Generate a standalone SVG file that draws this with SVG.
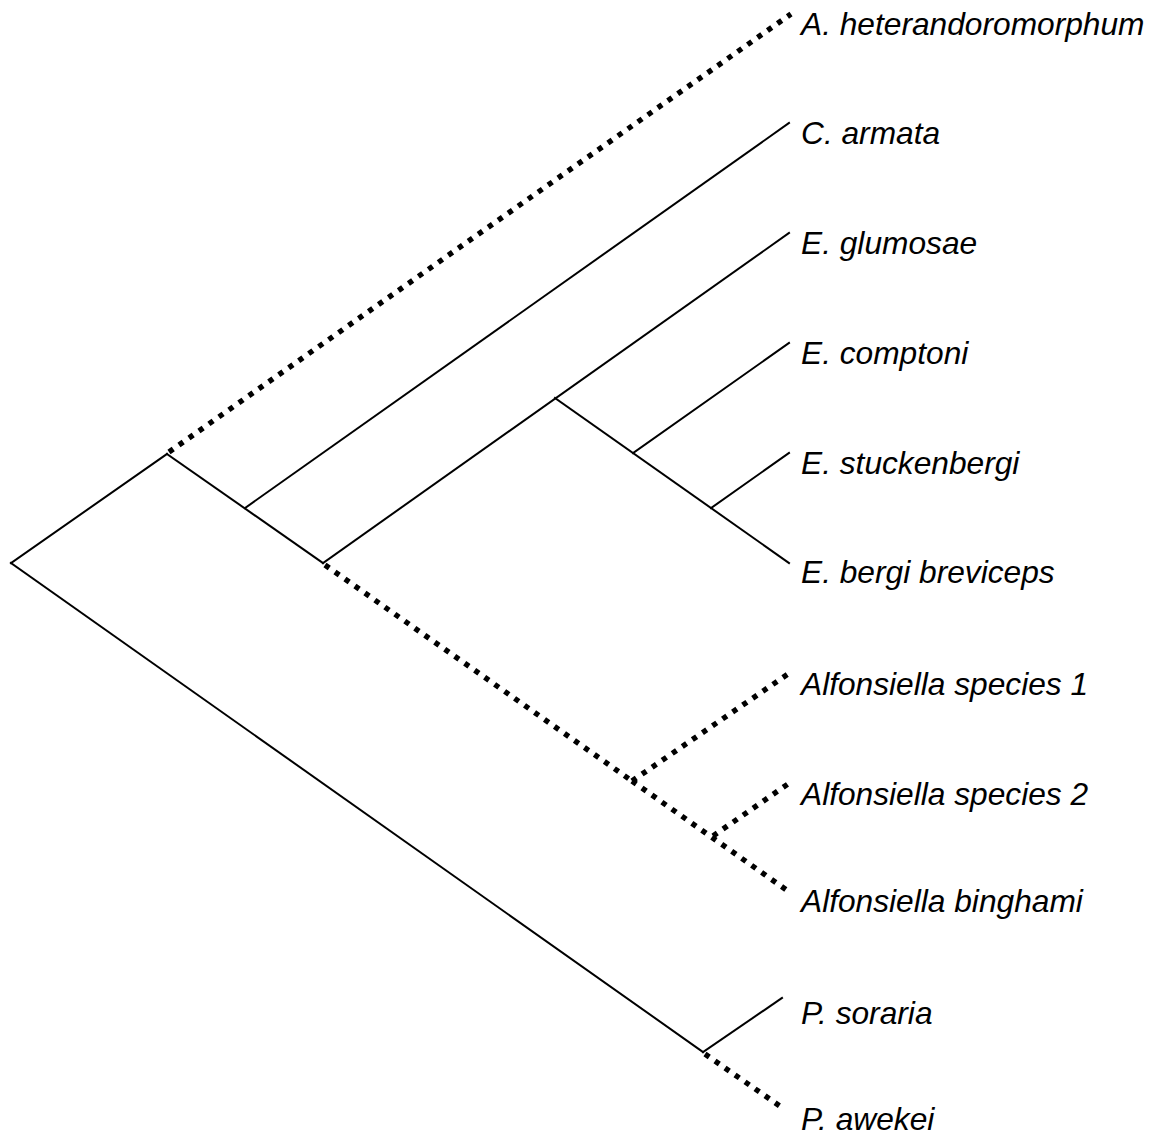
<svg xmlns="http://www.w3.org/2000/svg" width="1156" height="1137" viewBox="0 0 1156 1137">
<style>
.s{stroke:#000;stroke-width:2;fill:none;stroke-linecap:square}
.d{stroke:#000;stroke-width:5.4;fill:none;stroke-dasharray:5.2 7;stroke-linecap:butt}
.t{font-family:"Liberation Sans",Arial,sans-serif;font-style:italic;font-size:31.7px;fill:#000}
</style>
<rect width="1156" height="1137" fill="#fff"/>
<g id="connectors">
<line class="s" x1="11" y1="563" x2="167" y2="454"/>
<line class="s" x1="11" y1="563" x2="703" y2="1052"/>
<line class="d" x1="169" y1="452" x2="791" y2="14"/>
<line class="s" x1="167" y1="454" x2="323" y2="563"/>
<line class="s" x1="245" y1="508" x2="789" y2="123"/>
<line class="s" x1="323" y1="563" x2="789" y2="233"/>
<line class="d" x1="325" y1="565" x2="632" y2="781"/>
<line class="s" x1="555" y1="398" x2="789" y2="563"/>
<line class="s" x1="633" y1="453" x2="789" y2="343"/>
<line class="s" x1="711" y1="508" x2="789" y2="453"/>
<line class="d" x1="632" y1="781" x2="788" y2="674"/>
<line class="d" x1="632" y1="781" x2="788" y2="891"/>
<line class="d" x1="713" y1="836" x2="788" y2="784"/>
<line class="s" x1="703" y1="1052" x2="782" y2="998"/>
<line class="d" x1="705" y1="1054" x2="784" y2="1109"/>
</g>
<g id="leaf-a-heterandoromorphum"><text class="t" x="801" y="35">A. heterandoromorphum</text></g>
<g id="leaf-c-armata"><text class="t" x="801" y="144">C. armata</text></g>
<g id="leaf-e-glumosae"><text class="t" x="801" y="254">E. glumosae</text></g>
<g id="leaf-e-comptoni"><text class="t" x="801" y="364">E. comptoni</text></g>
<g id="leaf-e-stuckenbergi"><text class="t" x="801" y="474">E. stuckenbergi</text></g>
<g id="leaf-e-bergi-breviceps"><text class="t" x="801" y="583">E. bergi breviceps</text></g>
<g id="leaf-alfonsiella-sp1"><text class="t" x="801" y="695">Alfonsiella species 1</text></g>
<g id="leaf-alfonsiella-sp2"><text class="t" x="801" y="805">Alfonsiella species 2</text></g>
<g id="leaf-alfonsiella-binghami"><text class="t" x="801" y="912">Alfonsiella binghami</text></g>
<g id="leaf-p-soraria"><text class="t" x="801" y="1024">P. soraria</text></g>
<g id="leaf-p-awekei"><text class="t" x="801" y="1130">P. awekei</text></g>
</svg>
